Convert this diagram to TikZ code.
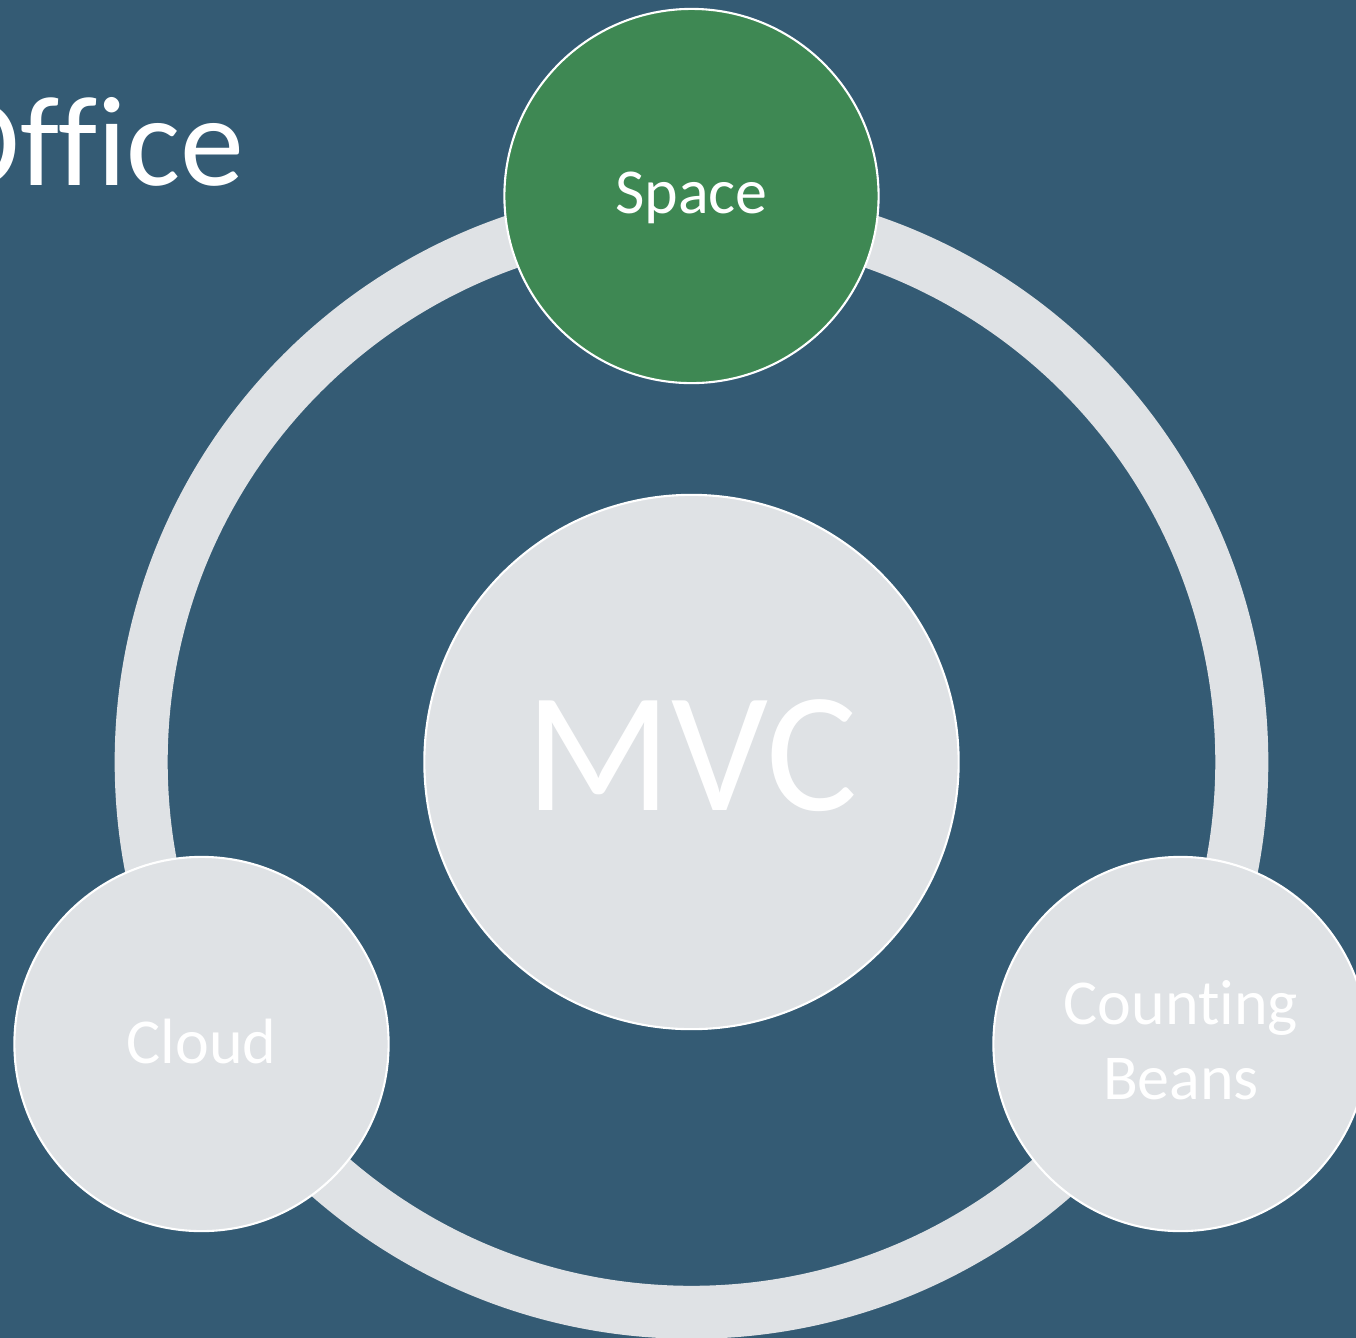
\documentclass[tikz,border=0pt]{standalone}
\usepackage{fontspec}
\setmainfont{Carlito}[Ligatures=NoCommon]
\definecolor{slate}{HTML}{345B74}
\definecolor{leaf}{HTML}{3E8853}
\definecolor{mist}{HTML}{DFE2E5}
\tikzset{
  bubble/.style={circle, draw=white, line width=0.6pt, inner sep=0pt, minimum size=3.74cm},
  core/.style={circle, draw=white, line width=0.6pt, fill=mist, inner sep=0pt, minimum size=5.34cm},
  orbit/.style={draw=mist, line width=0.53cm},
  lbl/.style={text=white, inner sep=0pt, font=\fontsize{18.2pt}{20.5pt}\selectfont},
}
\begin{document}
\begin{tikzpicture}[x=0.01cm, y=-0.01cm]
  % canvas
  \fill[slate] (0,0) rectangle (1356,1338);
  \useasboundingbox (0,0) rectangle (1356,1338);
  \clip (0,0) rectangle (1356,1338);

  % title
  \node[text=white, inner sep=0pt, anchor=base east,
        font=\fontsize{36.4pt}{40pt}\selectfont] (title) at (245,185) {Office};

  % outer ring
  \coordinate (hub) at (691.5,762);
  \draw[orbit] (hub) circle[radius=5.5cm];

  % centre and satellites
  \node[core] (mvc) at (hub) {};
  \node[bubble, fill=leaf] (space) at (691.5,196) {};
  \node[bubble, fill=mist] (cloud) at (201.5,1044) {};
  \node[bubble, fill=mist] (beans) at (1180.5,1044) {};

  % labels
  \node[text=white, inner sep=0pt, anchor=base,
        font=\fontsize{48.6pt}{52pt}\selectfont] (mvct) at (691.5,810) {MVC};
  \node[lbl, anchor=base] (spacet) at (691.5,213) {Space};
  \node[lbl, anchor=base] (cloudt) at (201.5,1063) {Cloud};
  \node[lbl, anchor=base, align=center, font=\fontsize{18.2pt}{21.3pt}\selectfont] (beanst) at (1181,1099) {Counting\\Beans};
\end{tikzpicture}
\end{document}
